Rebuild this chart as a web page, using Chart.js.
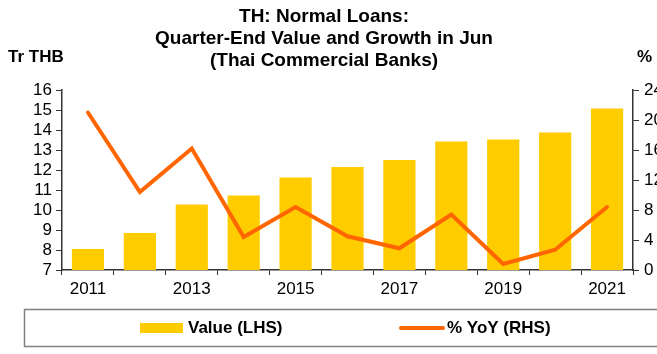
<!DOCTYPE html>
<html>
<head>
<meta charset="utf-8">
<script src="https://cdn.jsdelivr.net/npm/chart.js@4/dist/chart.umd.min.js"></script>
<style>
	html, body { margin: 0; padding: 0; background: #fff; overflow: hidden; }
	#contenedor { width: 657px; height: 354px; position: relative; }
</style>
</head>
<body>
<div id="contenedor"><canvas id="GraficoPrestamos"></canvas></div>
<script>
// datos del grafico (junio de cada año)
const anios = ['2011','2012','2013','2014','2015','2016','2017','2018','2019','2020','2021'];
const valorTr = [8.05, 8.85, 10.28, 10.73, 11.63, 12.15, 12.5, 13.42, 13.53, 13.88, 15.07];	// Tr THB (eje izq.)
const crecimientoYoY = [21.0, 10.4, 16.2, 4.4, 8.4, 4.5, 2.9, 7.4, 0.8, 2.7, 8.4];			// % YoY (eje der.)
const titulo = ['TH: Normal Loans:', 'Quarter-End Value and Growth in Jun', '(Thai Commercial Banks)'];
const unidadIzq = 'Tr THB';
const unidadDer = '%';

const AMARILLO = '#FFCC00';
const NARANJA = '#FF6600';
const EJE = '#333333';
const FUENTE = 'Arial, "Liberation Sans", sans-serif';

// titulo, unidades y leyenda con recuadro
const textosExtra = {
	id: 'textosExtra',
	afterDraw(chart) {
		const ctx = chart.ctx;
		ctx.save();
		ctx.fillStyle = '#000';
		ctx.textBaseline = 'middle';
		ctx.font = 'bold 19px ' + FUENTE;
		ctx.textAlign = 'center';
		titulo.forEach(function(t, i){ ctx.fillText(t, 324, 17 + i * 22); });
		ctx.font = 'bold 17px ' + FUENTE;
		ctx.textAlign = 'left';
		ctx.fillText(unidadIzq, 8, 57);
		ctx.fillText(unidadDer, 637, 57);

		// recuadro de la leyenda
		ctx.strokeStyle = '#808080';
		ctx.lineWidth = 1.5;
		ctx.strokeRect(24.5, 309.5, 700, 37);

		const ds = chart.data.datasets;
		const yMed = 328;
		ctx.fillStyle = ds[0].backgroundColor;
		ctx.fillRect(140, yMed - 5, 43, 10);
		ctx.fillStyle = '#000';
		ctx.fillText(ds[0].label, 188, yMed);

		ctx.strokeStyle = ds[1].borderColor;
		ctx.lineWidth = 4;
		ctx.lineCap = 'round';
		ctx.beginPath();
		ctx.moveTo(401, yMed);
		ctx.lineTo(443, yMed);
		ctx.stroke();
		ctx.fillText(ds[1].label, 447, yMed);
		ctx.restore();
	}
};

const myChartPrestamos = new Chart('GraficoPrestamos', {
	type: 'bar',
	data: {
		labels: anios,
		datasets: [{
			label: 'Value (LHS)',
			data: valorTr,
			yAxisID: 'yIzq',
			backgroundColor: AMARILLO,
			borderWidth: 0,
			categoryPercentage: 1,
			barPercentage: 0.62,
			order: 2
		}, {
			type: 'line',
			label: '% YoY (RHS)',
			data: crecimientoYoY,
			yAxisID: 'yDer',
			borderColor: NARANJA,
			backgroundColor: NARANJA,
			borderWidth: 4,
			borderCapStyle: 'round',
			pointRadius: 0,
			tension: 0,
			order: 1
		}]
	},
	options: {
		responsive: true,
		maintainAspectRatio: false,
		animation: false,
		layout: { padding: { top: 90, left: 0, right: 0, bottom: 54 } },
		plugins: {
			legend: { display: false },
			title: { display: false },
			tooltip: { enabled: false }
		},
		scales: {
			x: {
				offset: true,
				grid: { display: true, drawOnChartArea: false, offset: true, tickLength: 5, color: EJE },
				border: { color: EJE, width: 1.5 },
				ticks: {
					color: '#000',
					font: { family: FUENTE, size: 17 },
					padding: 4,
					maxRotation: 0,
					autoSkip: false,
					callback: function(val, i){ return i % 2 === 0 ? this.getLabelForValue(val) : ''; }
				},
				afterFit: function(scale){ scale.height = 30; }
			},
			yIzq: {
				position: 'left',
				min: 7,
				max: 16,
				ticks: { stepSize: 1, autoSkip: false, color: '#000', font: { family: FUENTE, size: 17 }, padding: 4 },
				grid: { drawOnChartArea: false, tickLength: 6, color: EJE },
				border: { color: EJE, width: 1.5 },
				afterFit: function(scale){ scale.width = 62; }
			},
			yDer: {
				position: 'right',
				min: 0,
				max: 24,
				ticks: { stepSize: 4, autoSkip: false, color: '#000', font: { family: FUENTE, size: 17 }, padding: 5 },
				grid: { drawOnChartArea: false, tickLength: 6, color: EJE },
				border: { color: EJE, width: 1.5 },
				afterFit: function(scale){ scale.width = 24; }
			}
		}
	},
	plugins: [textosExtra]
});
</script>
</body>
</html>
